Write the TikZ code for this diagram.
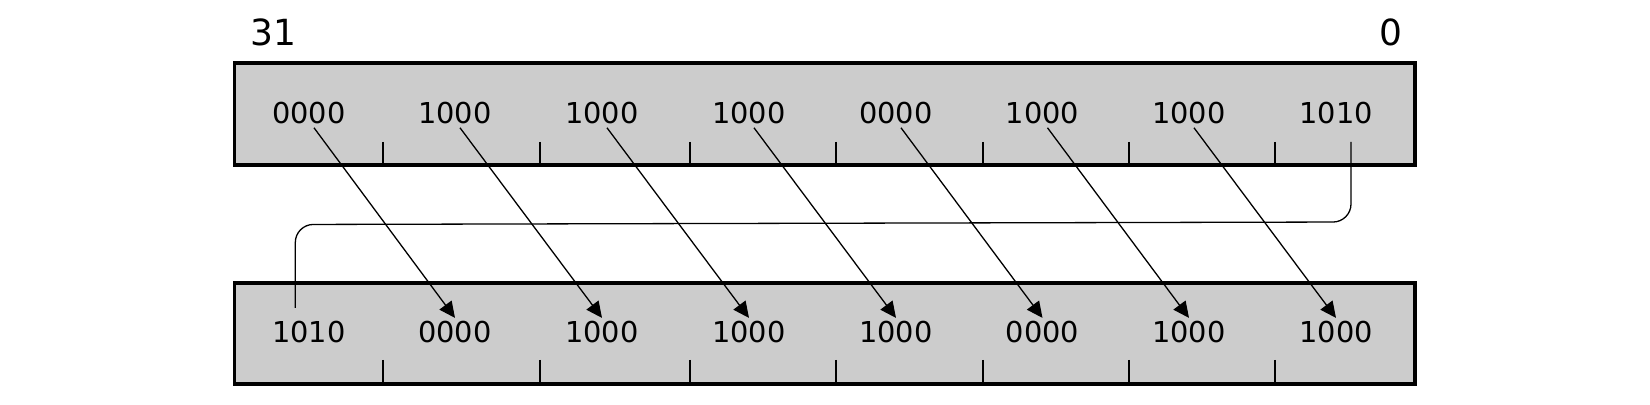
\documentclass[tikz,border=0pt]{standalone}
\usepackage{fontspec}
\setmainfont{DejaVu Sans}
\usepackage{tikz}
\usepackage{xcolor}
\usetikzlibrary{arrows.meta}

\definecolor{regfill}{HTML}{CCCCCC}

\begin{document}
\begin{tikzpicture}[x=0.5pt, y=-0.5pt,
        regbox/.style={draw, line width=1.6pt, fill=regfill},
        regtick/.style={line width=0.9pt},
        bits/.style={inner sep=1.5pt, font=\fontsize{14.4}{17}\selectfont},
        bitno/.style={inner sep=0pt, font=\fontsize{18}{21}\selectfont},
        bitarrow/.style={line width=0.65pt, -{Triangle[length=8pt, width=7.5pt]}},
        wrap/.style={line width=0.65pt, rounded corners=9pt}]
            \useasboundingbox (0,0) rectangle (1650,405);

            \node[bitno] (msb) at (273.5, 32) {31};
            \node[bitno] (lsb) at (1390.5, 32) {0};

            % the two registers
            \draw[regbox] (234.5, 63) rectangle (1415, 165);
            \draw[regbox] (234.5, 283) rectangle (1415, 384);

            \draw[regtick] (383,142) -- (383,165) (540,142) -- (540,165) (690,142) -- (690,165) (836,142) -- (836,165)
                (983,142) -- (983,165) (1129,142) -- (1129,165) (1275,142) -- (1275,165);
            \draw[regtick] (383,360) -- (383,384) (540,360) -- (540,384) (690,360) -- (690,384) (836,360) -- (836,384)
                (983,360) -- (983,384) (1129,360) -- (1129,384) (1275,360) -- (1275,384);

            \node[bits] (t1) at (309, 113.5) {0000};
            \node[bits] (t2) at (455, 113.5) {1000};
            \node[bits] (t3) at (602, 113.5) {1000};
            \node[bits] (t4) at (749, 113.5) {1000};
            \node[bits] (t5) at (896, 113.5) {0000};
            \node[bits] (t6) at (1042.5, 113.5) {1000};
            \node[bits] (t7) at (1189, 113.5) {1000};
            \node[bits] (t8) at (1336, 113.5) {1010};

            \node[bits] (b1) at (309, 332.2) {1010};
            \node[bits] (b2) at (455, 332.2) {0000};
            \node[bits] (b3) at (602, 332.2) {1000};
            \node[bits] (b4) at (749, 332.2) {1000};
            \node[bits] (b5) at (896, 332.2) {1000};
            \node[bits] (b6) at (1042.5, 332.2) {0000};
            \node[bits] (b7) at (1189, 332.2) {1000};
            \node[bits] (b8) at (1336, 332.2) {1000};

            \draw[bitarrow] ([xshift=2.5pt]t1.south) -- (b2.north);
            \draw[bitarrow] ([xshift=2.5pt]t2.south) -- (b3.north);
            \draw[bitarrow] ([xshift=2.5pt]t3.south) -- (b4.north);
            \draw[bitarrow] ([xshift=2.5pt]t4.south) -- (b5.north);
            \draw[bitarrow] ([xshift=2.5pt]t5.south) -- (b6.north);
            \draw[bitarrow] ([xshift=2.5pt]t6.south) -- (b7.north);
            \draw[bitarrow] ([xshift=2.5pt]t7.south) -- (b8.north);

            % lowest nibble wraps round to the top
            \coordinate (wrapin) at (1351, 142);
            \coordinate (wrapout) at (295.3, 308);
            \draw[wrap] (wrapin) -- (wrapin |- 0,222) -- (wrapout |- 0,224.5) -- (wrapout);
        \end{tikzpicture}
\end{document}
